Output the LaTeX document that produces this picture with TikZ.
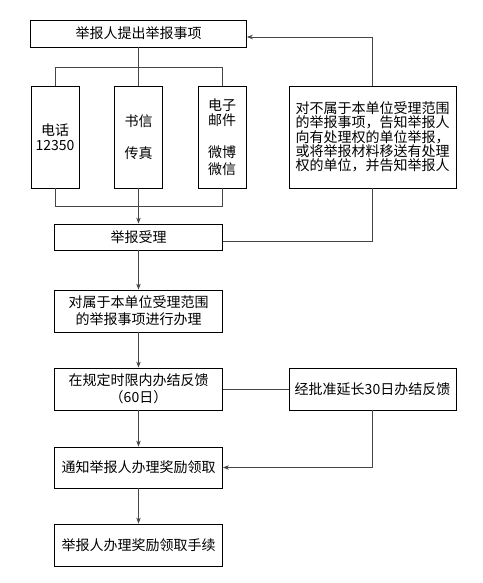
\documentclass[tikz,border=0pt]{standalone}
\usepackage{fontspec}
\setmainfont{Noto Sans CJK SC}
\usetikzlibrary{arrows.meta, positioning}
\definecolor{linegray}{RGB}{70,70,70}

\begin{document}
\begin{tikzpicture}[x=1pt, y=-1pt,
        box/.style={draw, line width=0.8pt, inner sep=0pt, align=center,
                    font=\fontsize{14}{15}\selectfont},
        wide/.style={box, minimum width=168pt, minimum height=42pt,
                    font=\fontsize{14}{17}\selectfont},
        tall/.style={box, minimum width=48pt, minimum height=102pt},
        link/.style={line width=0.8pt, linegray},
        arr/.style={link, -{Stealth[length=6pt, width=4.5pt]}},
      ]
      \useasboundingbox (0,0) rectangle (482,583);
      \node[box, minimum width=216pt, minimum height=27pt] (report) at (138.5,33.5) {举报人提出举报事项};
      \node[tall] (phone) at (55,137) {电话\\12350};
      \node[tall] (letter) at (138.5,137) {书信\\[17pt]传真};
      \node[tall] (email) at (222,137) {电子\\邮件\\[17pt]微博\\[2pt]微信};
      \node[box, minimum width=167pt, minimum height=102pt, font=\fontsize{14}{14.4}\selectfont] (outside) at (372.5,137)
        {对不属于本单位受理范围\\的举报事项，告知举报人\\向有处理权的单位举报，\\或将举报材料移送有处理\\权的单位，并告知举报人};
      \node[wide, minimum height=26pt] (accept) at (138.5,237) {举报受理};
      \node[wide] (handle) at (138.5,311) {对属于本单位受理范围\\的举报事项进行办理};
      \node[wide] (feedback) at (138.5,389) {在规定时限内办结反馈\\（60日）};
      \node[box, minimum width=167pt, minimum height=42pt] (extend) at (372.5,389) {经批准延长30日办结反馈};
      \node[wide, minimum height=41pt] (notify) at (138.5,467.5) {通知举报人办理奖励领取};
      \node[wide] (claim) at (138.5,545) {举报人办理奖励领取手续};
      % channels
      \draw[link] (report) -- (letter);
      \draw[link] (phone.north) -- ++(0,-18) -| (email.north);
      \draw[link] (phone.south) -- ++(0,18) -| (email.south);
      \draw[arr] (letter) -- (accept);
      % out of scope
      \draw[link] ([yshift=-4pt]accept.east) -| (outside.south);
      \draw[arr] (outside.north) |- ([yshift=-3.5pt]report.east);
      % main flow
      \draw[arr] (accept) -- (handle);
      \draw[arr] (handle) -- (feedback);
      \draw[arr] (feedback) -- (notify);
      \draw[arr] (notify) -- (claim);
      \draw[link] (feedback) -- (extend);
      \draw[arr] (extend.south) |- (notify.east);
    \end{tikzpicture}
\end{document}
